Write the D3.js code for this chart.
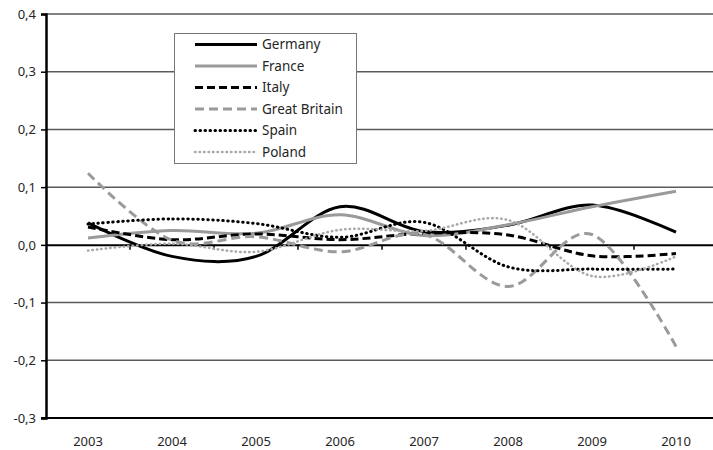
<!DOCTYPE html>
<html>
<head>
<meta charset="utf-8">
<script src="https://cdn.jsdelivr.net/npm/d3@7"></script>
<style>
  html, body { margin: 0; padding: 0; background: #fff; }
  svg { display: block; }
  text { font-family: "Noto Sans", "Open Sans", sans-serif; fill: #262626; }
</style>
</head>
<body>
<svg id="chart" width="713" height="450"></svg>
<script>
const years = ["2003", "2004", "2005", "2006", "2007", "2008", "2009", "2010"];
const yTicks = [-0.3, -0.2, -0.1, 0.0, 0.1, 0.2, 0.3, 0.4];

const germany      = [0.038, -0.020, -0.020, 0.066, 0.023, 0.034, 0.069, 0.022];
const france       = [0.012, 0.025, 0.020, 0.052, 0.016, 0.035, 0.066, 0.093];
const italy        = [0.031, 0.009, 0.019, 0.009, 0.020, 0.017, -0.019, -0.015];
const greatBritain = [0.124, 0.008, 0.014, -0.012, 0.018, -0.072, 0.018, -0.176];
const spain        = [0.036, 0.045, 0.037, 0.013, 0.039, -0.038, -0.042, -0.042];
const poland       = [-0.010, 0.002, -0.012, 0.026, 0.024, 0.043, -0.054, -0.020];

const seriesNames = ["Germany", "France", "Italy", "Great Britain", "Spain", "Poland"];
const seriesValues = [germany, france, italy, greatBritain, spain, poland];
const seriesStyles = [
  { color: "#000000", width: 3,   dash: null,     cap: "butt" },
  { color: "#9a9a9a", width: 3,   dash: null,     cap: "butt" },
  { color: "#000000", width: 3,   dash: "8,4",    cap: "butt" },
  { color: "#9a9a9a", width: 3,   dash: "9,5",    cap: "butt" },
  { color: "#000000", width: 3,   dash: "0.5,4.5", cap: "round" },
  { color: "#a8a8a8", width: 2.5, dash: "0.5,4",  cap: "round" }
];

const svg = d3.select("#chart");
const mLeft = 46, mRight = 718, mTop = 14, mBottom = 418;

const x = d3.scaleBand().domain(years).range([mLeft, mRight]).padding(0);
const y = d3.scaleLinear().domain([-0.3, 0.4]).range([mBottom, mTop]);
const fmt = v => d3.format(".1f")(v).replace(".", ",").replace("−", "-");

// gridlines
svg.append("g").selectAll("line")
  .data(yTicks.filter(v => v !== 0 && v !== -0.3))
  .join("line")
  .attr("x1", mLeft).attr("x2", 713)
  .attr("y1", d => y(d)).attr("y2", d => y(d))
  .attr("stroke", "#5a5a5a").attr("stroke-width", 1.5);

// bottom line
svg.append("line")
  .attr("x1", mLeft - 5).attr("x2", 713)
  .attr("y1", y(-0.3)).attr("y2", y(-0.3))
  .attr("stroke", "#000").attr("stroke-width", 2);

// left axis
const yAxis = d3.axisLeft(y).tickValues(yTicks).tickFormat(fmt).tickSize(5).tickPadding(5);
const gy = svg.append("g").attr("transform", `translate(${mLeft},0)`).call(yAxis);
gy.select(".domain").attr("stroke", "#000").attr("stroke-width", 2.5);
gy.selectAll(".tick line").attr("stroke", "#000").attr("stroke-width", 1.5);
gy.selectAll(".tick text").attr("font-size", 13).attr("fill", "#262626")
  .style("font-family", '"Noto Sans", sans-serif');

// x axis on zero line
const xAxis = d3.axisBottom(x).tickSize(0).tickFormat("");
const gx = svg.append("g").attr("transform", `translate(0,${y(0)})`).call(xAxis);
gx.select(".domain").attr("stroke", "#000").attr("stroke-width", 2);
gx.selectAll(".tick").remove();
// category boundary ticks
svg.append("g").selectAll("line")
  .data(years.slice(1))
  .join("line")
  .attr("x1", d => x(d)).attr("x2", d => x(d))
  .attr("y1", y(0)).attr("y2", y(0) + 5)
  .attr("stroke", "#000").attr("stroke-width", 1.5);

// x labels
svg.append("g").selectAll("text")
  .data(years)
  .join("text")
  .attr("x", d => x(d) + x.bandwidth() / 2)
  .attr("y", 446)
  .attr("text-anchor", "middle")
  .attr("font-size", 13)
  .text(d => d);

// lines
const line = d3.line()
  .x((d, i) => x(years[i]) + x.bandwidth() / 2)
  .y(d => y(d))
  .curve(d3.curveCatmullRom.alpha(0));

svg.append("g").selectAll("path")
  .data(seriesValues)
  .join("path")
  .attr("d", d => line(d))
  .attr("fill", "none")
  .attr("stroke", (d, i) => seriesStyles[i].color)
  .attr("stroke-width", (d, i) => seriesStyles[i].width)
  .attr("stroke-dasharray", (d, i) => seriesStyles[i].dash)
  .attr("stroke-linecap", (d, i) => seriesStyles[i].cap);

// legend
const lg = svg.append("g");
lg.append("rect")
  .attr("x", 174.5).attr("y", 33.5).attr("width", 182).attr("height", 130)
  .attr("fill", "#fff").attr("stroke", "#777").attr("stroke-width", 1);
seriesNames.forEach((name, i) => {
  const yy = 44.5 + i * 21.5;
  lg.append("line")
    .attr("x1", 195).attr("x2", 257)
    .attr("y1", yy).attr("y2", yy)
    .attr("stroke", seriesStyles[i].color)
    .attr("stroke-width", seriesStyles[i].width)
    .attr("stroke-dasharray", seriesStyles[i].dash)
    .attr("stroke-linecap", seriesStyles[i].cap);
  lg.append("text")
    .attr("x", 262).attr("y", yy)
    .attr("dy", "0.35em")
    .attr("font-size", 13.5)
    .text(name);
});
</script>
</body>
</html>
